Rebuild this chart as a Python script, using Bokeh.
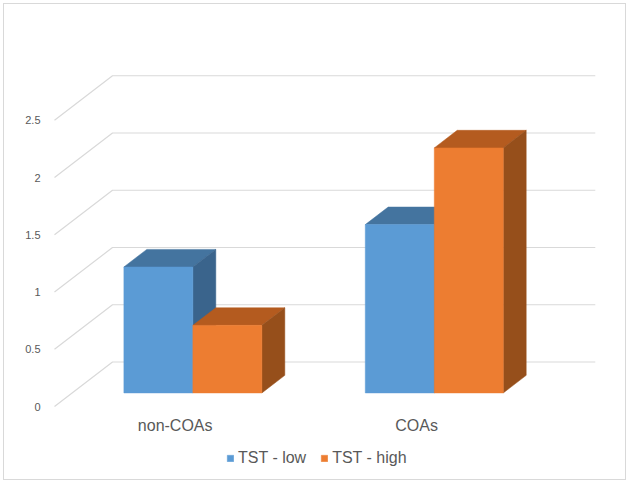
from bokeh.plotting import figure
from bokeh.models import Range1d, FixedTicker, Legend, LegendItem
from bokeh.embed import file_html
from bokeh.resources import INLINE

categories = ["non-COAs", "COAs"]
series_names = ["TST - low", "TST - high"]
tst_low = [1.10, 1.47]
tst_high = [0.59, 2.14]
tick_values = [0, 0.5, 1, 1.5, 2, 2.5]
tick_labels = ["0", "0.5", "1", "1.5", "2", "2.5"]

FONT = "Liberation Sans"
BLUE = ("#5B9BD5", "#44749F", "#3A648C")
ORANGE = ("#ED7D31", "#B45B1F", "#964F1B")
GRID = "#D9D9D9"

PX_X = 241.4    # pixels per category
PX_Y = 114.5    # pixels per value unit
DX = 58 / PX_X      # depth shift of the full floor, category units
DY = 44.5 / PX_Y    # depth shift of the full floor, value units
Z0, Z1 = 0.305, 0.70  # bar front / back depth
BAR_W = 69 / PX_X

p = figure(width=621, height=475, frame_width=550, frame_height=412,
           output_backend="svg", toolbar_location=None,
           x_range=Range1d(-4 / PX_X, 546 / PX_X),
           y_range=Range1d(-66 / PX_Y, 346 / PX_Y),
           min_border_left=46, min_border_top=56, min_border_right=25, min_border_bottom=7,
           background_fill_color="white", border_fill_color="white", outline_line_color=None,
           styles={"margin": "3px 0 0 3px", "border": "1px solid #D9D9D9", "box-sizing": "content-box"})
p.grid.visible = False

# axes
p.yaxis.ticker = FixedTicker(ticks=tick_values)
p.yaxis.major_label_overrides = {v: s for v, s in zip(tick_values, tick_labels)}
p.yaxis.axis_line_color = None
p.yaxis.major_tick_line_color = None
p.yaxis.minor_tick_line_color = None
p.yaxis.major_label_text_font = FONT
p.yaxis.major_label_text_font_size = "11px"
p.yaxis.major_label_text_color = "#595959"
p.yaxis.major_label_standoff = 4

centers = [i + 0.5 for i in range(len(categories))]
p.xaxis.fixed_location = -4 / PX_Y
p.xaxis.ticker = FixedTicker(ticks=centers)
p.xaxis.major_label_overrides = {c: s for c, s in zip(centers, categories)}
p.xaxis.axis_line_color = None
p.xaxis.major_tick_line_color = None
p.xaxis.minor_tick_line_color = None
p.xaxis.major_label_text_font = FONT
p.xaxis.major_label_text_font_size = "16px"
p.xaxis.major_label_text_color = "#595959"
p.xaxis.major_label_standoff = 0

# 3-D gridlines: front-left, back-left, back-right
xs = [[0, DX, len(categories) + DX] for _ in tick_values]
ys = [[v, v + DY, v + DY] for v in tick_values]
p.multi_line(xs, ys, line_color=GRID, line_width=1.2)


def bar(x0, x1, v, colors):
    fx0, fx1 = x0 + Z0 * DX, x1 + Z0 * DX
    base = Z0 * DY
    sx = (Z1 - Z0) * DX
    sy = (Z1 - Z0) * DY
    top = base + v
    p.patch([fx0, fx0 + sx, fx1 + sx, fx1], [top, top + sy, top + sy, top],
            fill_color=colors[1], line_color=colors[1], line_width=0.5)
    p.patch([fx1, fx1 + sx, fx1 + sx, fx1], [base, base + sy, top + sy, top],
            fill_color=colors[2], line_color=colors[2], line_width=0.5)
    return p.quad(left=fx0, right=fx1, bottom=base, top=top,
                  fill_color=colors[0], line_color=colors[0], line_width=0.5)


low_r = [bar(c - BAR_W, c, v, BLUE) for c, v in zip(centers, tst_low)]
high_r = [bar(c, c + BAR_W, v, ORANGE) for c, v in zip(centers, tst_high)]

legend = Legend(items=[LegendItem(label=series_names[0], renderers=[low_r[0]]),
                       LegendItem(label=series_names[1], renderers=[high_r[0]])],
                orientation="horizontal", location=(176, 5),
                border_line_color=None, background_fill_alpha=0,
                label_text_font=FONT, label_text_font_size="16px", label_text_color="#595959",
                glyph_width=8, glyph_height=8, spacing=14, label_standoff=4,
                margin=0, padding=4)
p.add_layout(legend)

open("out.html", "w").write(file_html(p, INLINE))
